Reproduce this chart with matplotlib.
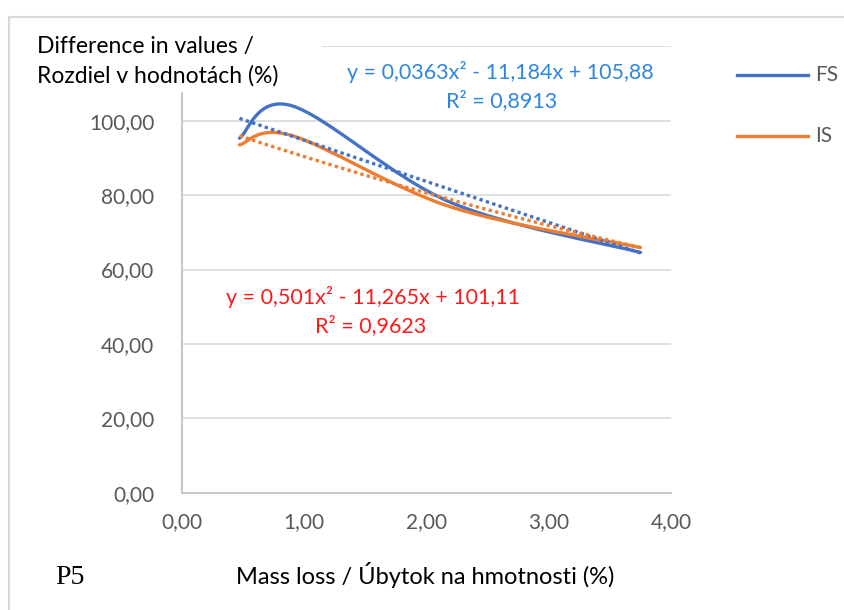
import matplotlib
matplotlib.use("Agg")
import matplotlib.pyplot as plt
import numpy as np
from matplotlib.path import Path
from matplotlib.patches import PathPatch, Rectangle
from matplotlib.lines import Line2D
from matplotlib.ticker import FuncFormatter

# data
mass_loss = [0.47, 0.9, 2.2, 3.75]
fs_values = [95.3, 104.0, 78.0, 64.6]
is_values = [93.5, 96.0, 76.8, 65.9]
# polynomial trendlines as printed on the chart
fs_trend = [0.0363, -11.184, 105.88]
is_trend = [0.501, -11.265, 101.11]
fs_eq = "y = 0,0363x² - 11,184x + 105,88"
fs_r2 = "R² = 0,8913"
is_eq = "y = 0,501x² - 11,265x + 101,11"
is_r2 = "R² = 0,9623"
series_names = ["FS", "IS"]
x_ticks = [0, 1, 2, 3, 4]
y_ticks = [0, 20, 40, 60, 80, 100, 120]

BLUE = "#4472C4"
ORANGE = "#ED7D31"
GRAY = "#595959"
SANS = ["Lato", "DejaVu Sans"]

W, H = 844, 610


def fx(px):
    return px / W


def fy(py):
    return 1 - py / H


def smooth_path(xs, ys):
    """Excel-like smoothed line (Catmull-Rom as cubic Bezier)."""
    pts = np.column_stack([xs, ys])
    n = len(pts)
    verts = [pts[0]]
    codes = [Path.MOVETO]
    for i in range(n - 1):
        p0 = pts[i - 1] if i > 0 else pts[i]
        p1 = pts[i]
        p2 = pts[i + 1]
        p3 = pts[i + 2] if i + 2 < n else pts[i + 1]
        c1 = p1 + (p2 - p0) / 6.0
        c2 = p2 - (p3 - p1) / 6.0
        verts += [c1, c2, p2]
        codes += [Path.CURVE4] * 3
    return Path(verts, codes)


def comma_fmt(v, p):
    # top gridline label is hidden behind the axis title in the original
    if v >= 120:
        return ""
    return f"{v:.2f}".replace(".", ",")


plt.rcParams['font.family'] = SANS

fig = plt.figure(figsize=(W / 100, H / 100), dpi=100)
ax = fig.add_axes([fx(182), fy(492.7), fx(671) - fx(182), fy(46.3) - fy(492.7)])

###############grid and axes################
ax.set_xlim(0, 4)
ax.set_ylim(0, 120)
ax.set_xticks(x_ticks)
ax.set_yticks(y_ticks)
ax.xaxis.set_major_formatter(FuncFormatter(comma_fmt))
ax.yaxis.set_major_formatter(FuncFormatter(comma_fmt))
ax.tick_params(length=0, labelsize=15, colors=GRAY)
ax.tick_params(axis="y", pad=20)
ax.tick_params(axis="x", pad=14)
ax.grid(axis="y", color="#d9d9d9", linewidth=1.2)
ax.set_axisbelow(True)
for s in ["top", "right"]:
    ax.spines[s].set_visible(False)
for s in ["left", "bottom"]:
    ax.spines[s].set_color("#c8c8c8")
    ax.spines[s].set_linewidth(1.5)

###############series################
for vals, col in [(fs_values, BLUE), (is_values, ORANGE)]:
    patch = PathPatch(smooth_path(mass_loss, vals), fill=False, edgecolor=col,
                      linewidth=2.4, capstyle="round", joinstyle="round", zorder=3)
    ax.add_patch(patch)

xs = np.linspace(min(mass_loss), max(mass_loss), 200)
for coef, col in [(fs_trend, BLUE), (is_trend, ORANGE)]:
    ax.plot(xs, np.polyval(coef, xs), color=col, linewidth=2.4,
            linestyle=(0, (1, 1)), dash_capstyle="butt", zorder=4)

###############texts################
fig.add_artist(Rectangle((fx(9), -0.1), 2, fy(17) + 0.1, transform=fig.transFigure,
                         fill=False, edgecolor="#d9d9d9", linewidth=1.5))
fig.add_artist(Rectangle((fx(28), fy(92)), fx(322) - fx(28), fy(28) - fy(92),
                         transform=fig.transFigure, facecolor="white", edgecolor="none",
                         zorder=5))
fig.text(fx(37), fy(46), "Difference in values /", fontsize=16.5, color="black",
         va="center", ha="left", zorder=6)
fig.text(fx(37), fy(76), "Rozdiel v hodnotách (%)", fontsize=16.5, color="black",
         va="center", ha="left", zorder=6)

fig.text(fx(500), fy(72), fs_eq, fontsize=15.5, color="#2E86DE", ha="center", va="center")
fig.text(fx(502), fy(101), fs_r2, fontsize=15.5, color="#2E86DE", ha="center", va="center")
fig.text(fx(373), fy(297), is_eq, fontsize=15.5, color="#FF1A1A", ha="center", va="center")
fig.text(fx(371), fy(326), is_r2, fontsize=15.5, color="#FF1A1A", ha="center", va="center")

fig.text(fx(425), fy(575), "Mass loss / Úbytok na hmotnosti (%)", fontsize=17,
         color="black", ha="center", va="center")
fig.text(fx(55), fy(578), "P5", fontsize=20, family="Liberation Serif",
         color="black", ha="left", va="center")

###############legend################
for name, col, py in [(series_names[0], BLUE, 75), (series_names[1], ORANGE, 136)]:
    fig.add_artist(Line2D([fx(737), fx(808)], [fy(py), fy(py)], color=col,
                          linewidth=2.4, transform=fig.transFigure))
    fig.text(fx(815), fy(py), name, fontsize=15, color=GRAY, ha="left", va="center")

fig.savefig("out.png", dpi=100)
